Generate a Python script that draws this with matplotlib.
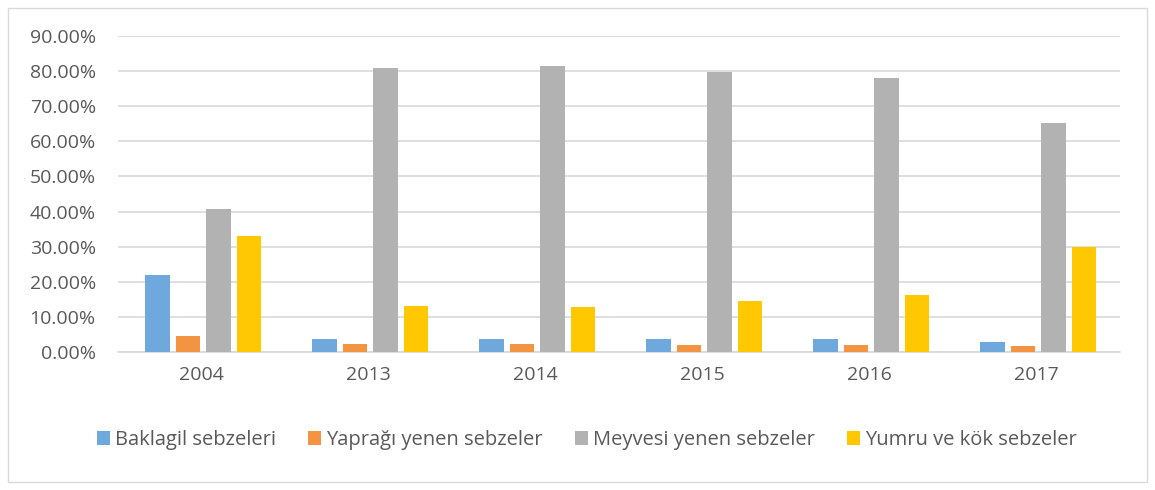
import matplotlib.pyplot as plt
import numpy as np
from matplotlib.ticker import PercentFormatter
from matplotlib.patches import Rectangle

plt.rcParams['font.family'] = ['Open Sans', 'DejaVu Sans']

years = ['2004', '2013', '2014', '2015', '2016', '2017']
baklagil = [21.9, 3.7, 3.7, 3.7, 3.7, 2.9]
yaprak = [4.6, 2.3, 2.3, 2.1, 2.1, 1.7]
meyve = [40.7, 80.8, 81.5, 79.8, 78.1, 65.3]
yumru = [33.0, 13.2, 12.8, 14.5, 16.2, 29.9]

series = [
    ('Baklagil sebzeleri', baklagil, '#6FA8DC'),
    ('Yaprağı yenen sebzeler', yaprak, '#F39443'),
    ('Meyvesi yenen sebzeler', meyve, '#B2B2B2'),
    ('Yumru ve kök sebzeler', yumru, '#FFC800'),
]

fig = plt.figure(figsize=(11.55, 4.9), dpi=100)
ax = fig.add_axes([118 / 1155, 1 - 352 / 490, 1002 / 1155, 316 / 490])

# outer chart border
fig.patches.append(Rectangle((8 / 1155, 8 / 490), 1139 / 1155, 474 / 490,
                             transform=fig.transFigure, fill=False,
                             edgecolor='#D9D9D9', linewidth=1))

x = np.arange(len(years))
step = 0.183
width = 0.148
for i, (name, vals, col) in enumerate(series):
    ax.bar(x + (i - 1.5) * step + 0.01, vals, width, color=col, label=name, zorder=3)

ax.set_xlim(-0.5, len(years) - 0.5)
ax.set_ylim(0, 90)
ax.set_yticks(np.arange(0, 91, 10))
ax.yaxis.set_major_formatter(PercentFormatter(decimals=2))
ax.set_xticks(x)
ax.set_xticklabels(years)
ax.grid(axis='y', color='#D9D9D9', linewidth=1.2, zorder=0)
for s in ['top', 'right', 'left']:
    ax.spines[s].set_visible(False)
ax.spines['bottom'].set_color('#D9D9D9')
ax.spines['bottom'].set_linewidth(1.2)
ax.tick_params(axis='both', length=0, labelsize=14, colors='#595959')
ax.tick_params(axis='x', pad=10)
ax.tick_params(axis='y', pad=16)

fig.legend(loc='center', bbox_to_anchor=(0.508, 1 - 440 / 490), ncol=4,
           frameon=False, fontsize=14.5, handlelength=0.65, handleheight=0.75,
           handletextpad=0.25, columnspacing=1.6, labelcolor='#595959')

fig.savefig('out.png', dpi=100)
